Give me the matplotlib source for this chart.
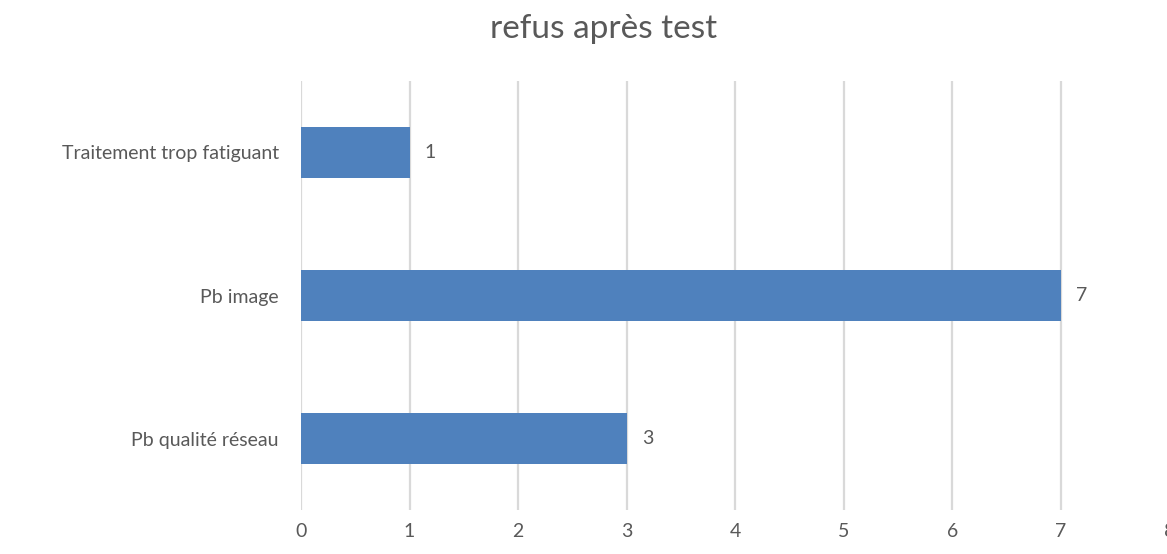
import matplotlib
matplotlib.use("Agg")
import matplotlib.pyplot as plt

categories = ["Pb qualité réseau", "Pb image", "Traitement trop fatiguant"]
values = [3, 7, 1]
xticks = [0, 1, 2, 3, 4, 5, 6, 7, 8]
title = "refus après test"

plt.rcParams['font.family'] = ['Lato', 'DejaVu Sans']
txt = "#595959"

fig = plt.figure(figsize=(11.67, 5.54), dpi=100)
ax = fig.add_axes([0.2579, 0.0794, 0.7443, 0.7744])
ax.barh(range(len(categories)), values, height=0.35, color="#4f81bd", zorder=3)
ax.set_xlim(0, 8)
ax.set_ylim(-0.5, 2.5)
ax.set_xticks(xticks)
ax.set_yticks(range(len(categories)))
ax.set_yticklabels(categories)
ax.grid(axis='x', color="#d9d9d9", linewidth=1.6, zorder=0)
for s in ax.spines.values():
    s.set_visible(False)
ax.tick_params(axis='both', length=0, labelsize=14, colors=txt)
ax.tick_params(axis='x', pad=9)
ax.tick_params(axis='y', pad=16)
ax.xaxis.grid(True)
ax.set_axisbelow(True)
for i, v in enumerate(values):
    ax.text(v + 0.14, i, str(v), va='center', ha='left', fontsize=14, color=txt)
fig.text(0.517, 0.948, title, ha='center', va='center', fontsize=24, color=txt)
fig.savefig("out.png", dpi=100)
